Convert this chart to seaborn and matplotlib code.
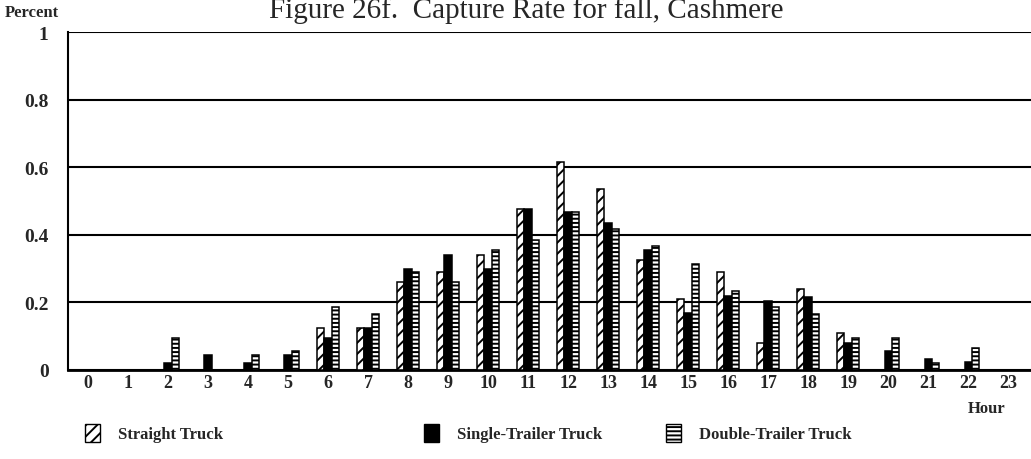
import matplotlib
matplotlib.use("Agg")
import matplotlib.pyplot as plt
from matplotlib.patches import Patch
import seaborn as sns
import pandas as pd

# Hourly capture rates by truck type
hours = [str(h) for h in range(24)]
straight = [0, 0, 0, 0, 0, 0, 0.125, 0.125, 0.26, 0.29, 0.34, 0.475, 0.615, 0.535,
            0.325, 0.21, 0.29, 0.08, 0.24, 0.11, 0, 0, 0, 0]
single = [0, 0, 0.02, 0.043, 0.02, 0.043, 0.094, 0.125, 0.30, 0.34, 0.30, 0.475, 0.466, 0.434,
          0.354, 0.17, 0.22, 0.205, 0.215, 0.08, 0.055, 0.032, 0.025, 0]
double = [0, 0, 0.094, 0, 0.043, 0.055, 0.185, 0.165, 0.29, 0.26, 0.355, 0.385, 0.466, 0.416,
          0.366, 0.315, 0.235, 0.185, 0.165, 0.095, 0.095, 0.022, 0.065, 0]
series = ["Straight Truck", "Single-Trailer Truck", "Double-Trailer Truck"]
y_ticks = [0, 0.2, 0.4, 0.6, 0.8, 1]
y_tick_labels = ["0", "0.2", "0.4", "0.6", "0.8", "1"]

df = pd.DataFrame({
    "Hour": hours * 3,
    "Rate": straight + single + double,
    "Type": [series[0]] * 24 + [series[1]] * 24 + [series[2]] * 24,
})

sns.set_style("white")
plt.rcParams["font.family"] = ["Liberation Serif", "DejaVu Serif"]
plt.rcParams["hatch.linewidth"] = 1.4

fig = plt.figure(figsize=(10.31, 4.60), dpi=100)
W, H = 1031, 460
ax = fig.add_axes([68 / W, 1 - 371 / H, (W - 68) / W, (371 - 33) / H])

fills = {"Straight Truck": "white", "Single-Trailer Truck": "black", "Double-Trailer Truck": "white"}
hatches = {"Straight Truck": "///", "Single-Trailer Truck": "", "Double-Trailer Truck": "----"}

sns.barplot(data=df, x="Hour", y="Rate", hue="Type", order=hours, hue_order=series,
            palette=fills, width=0.55, gap=0, edgecolor="black", linewidth=1.1,
            legend=False, ax=ax, zorder=3)

# apply hatching per series (patches are ordered hue by hue)
n = len(hours)
for i, patch in enumerate(ax.patches):
    s = series[i // n]
    patch.set_hatch(hatches[s])
    patch.set_edgecolor("black")
    patch.set_facecolor(fills[s])

ax.set_xlim(-0.5, 23.57)
ax.set_ylim(0, 1)
ax.set_yticks(y_ticks)
ax.set_yticklabels(y_tick_labels, fontsize=14, fontweight="bold")
ax.set_xticklabels(hours, fontsize=13, fontweight="bold")
ax.tick_params(axis="y", direction="out", length=12, width=1.5, color="black", pad=2)
ax.tick_params(axis="x", length=0, pad=3)
ax.set_xlabel("")
ax.set_ylabel("")
ax.set_axisbelow(True)
ax.yaxis.grid(True, color="black", linewidth=1.5)
ax.xaxis.grid(False)
for side in ["top", "right"]:
    ax.spines[side].set_visible(False)
ax.spines["left"].set_linewidth(1.5)
ax.spines["bottom"].set_linewidth(2)
ax.spines["left"].set_color("black")
ax.spines["bottom"].set_color("black")

fig.text(526 / W, 1 - 18 / H, "Figure 26f.  Capture Rate for fall, Cashmere",
         ha="center", va="baseline", fontsize=21)
fig.text(5 / W, 1 - 13 / H, "Percent", ha="left", va="center", fontsize=12, fontweight="bold")
fig.text(987 / W, 1 - 409 / H, "Hour", ha="center", va="center", fontsize=12, fontweight="bold")

# legend entries laid out below the axis
legend_x = [70, 409, 651]
for x, s in zip(legend_x, series):
    h = Patch(facecolor=fills[s], edgecolor="black", hatch=hatches[s], linewidth=1.0)
    fig.legend(handles=[h], labels=[s], loc="center left",
               bbox_to_anchor=(x / W, 1 - 434 / H), frameon=False,
               handlelength=0.9, handleheight=1.3, handletextpad=1.1,
               prop={"family": "Liberation Serif", "weight": "bold", "size": 12})

fig.savefig("out.png", dpi=100)
